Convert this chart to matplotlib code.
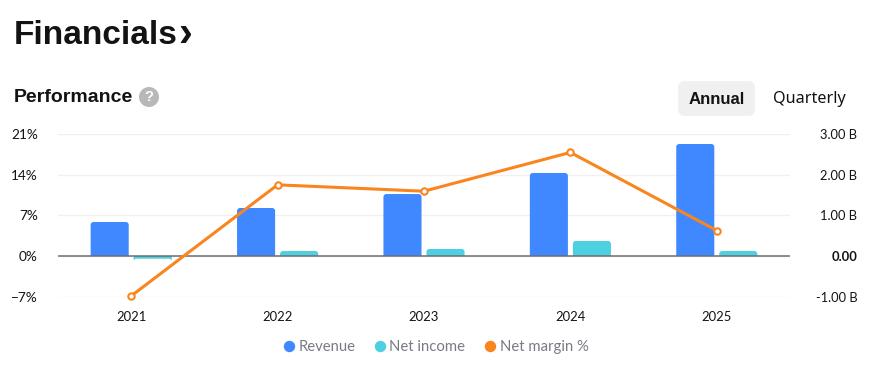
import matplotlib
matplotlib.use("Agg")
import matplotlib.pyplot as plt
import numpy as np
from matplotlib.lines import Line2D
from matplotlib.patches import Circle, FancyBboxPatch, Rectangle

years = ["2021", "2022", "2023", "2024", "2025"]
revenue = [0.84, 1.185, 1.53, 2.05, 2.765]
net_income = [-0.067, 0.123, 0.173, 0.37, 0.123]
net_margin = [-6.9, 12.3, 11.2, 17.9, 4.4]

pct_ticks = [-7, 0, 7, 14, 21]
pct_labels = ["\u22127%", "0%", "7%", "14%", "21%"]
bil_ticks = [-1, 0, 1, 2, 3]
bil_labels = ["-1.00 B", "0.00", "1.00 B", "2.00 B", "3.00 B"]

W, H = 876, 388
BLUE = "#3F88FF"
CYAN = "#4DD0E1"
ORANGE = "#F9851F"
INK = "#131313"
HEAD = ["Liberation Sans", "DejaVu Sans"]

plt.rcParams["font.family"] = ["Lato", "DejaVu Sans"]

fig = plt.figure(figsize=(W / 100, H / 100), dpi=100)

# page furniture in pixel coordinates
page = fig.add_axes([0, 0, 1, 1])
page.set_xlim(0, W)
page.set_ylim(H, 0)
page.axis("off")
page.text(14, 36, "Financials", family=HEAD, fontsize=24, fontweight="bold", color=INK, va="center")
page.text(178, 35, "\u203a", family=HEAD, fontsize=30, fontweight="bold", color=INK, va="center")
page.text(14, 98, "Performance", family=HEAD, fontsize=14, fontweight="bold", color=INK, va="center")
page.add_patch(Circle((149, 97), 10, color="#B8B8B8", lw=0))
page.text(149, 97, "?", family=HEAD, fontsize=10.5, fontweight="bold", color="white", ha="center", va="center")
page.add_patch(FancyBboxPatch((684, 87), 65, 23, boxstyle="round,pad=0,rounding_size=0",
                              fc="#F0F0F0", ec="#F0F0F0", lw=8.5, joinstyle="round"))
page.text(716.5, 99, "Annual", family=HEAD, fontsize=12.1, fontweight="bold", color=INK, ha="center", va="center")
page.text(809, 99, "Quarterly", family=["Noto Sans", "DejaVu Sans"], fontsize=11.7, color=INK, ha="center", va="center")

# plot area
left, right, top, bottom = 58, 790, 134.5, 296.5
ax = fig.add_axes([left / W, 1 - bottom / H, (right - left) / W, (bottom - top) / H])
ax2 = ax.twinx()
ax2.set_zorder(1)
ax.set_zorder(2)
ax.patch.set_visible(False)

x = np.arange(len(years))
ax.set_xlim(-0.5, len(years) - 0.5)
ax.set_ylim(-7, 21)
ax2.set_ylim(-1, 3)

# y units per x unit on screen, so the corners stay round
y_per_x = (4 / (bottom - top)) / (len(years) / (right - left))
bar_w = 0.26
corner = 0.02


def rounded_bars(centers, values, color):
    for c, v in zip(centers, values):
        # box runs past the baseline and gets clipped there, only the far end stays round
        past = np.sign(v) * corner * y_per_x * 1.5
        box = FancyBboxPatch((c - bar_w / 2, -past), bar_w, v + past, fc=color, ec="none", zorder=3,
                             boxstyle=f"round,pad=0,rounding_size={corner}", mutation_aspect=y_per_x)
        ax2.add_patch(box)
        box.set_clip_path(Rectangle((c - bar_w, 0), 2 * bar_w, v * 1.5, transform=ax2.transData))


rounded_bars(x - 0.147, revenue, BLUE)
rounded_bars(x + 0.147, net_income, CYAN)
ax2.axhline(0, color="#6E6E6E", lw=1.1, zorder=4)
ax2.set_axisbelow(True)
ax2.grid(axis="y", color="#F0F0F0", lw=1)

ax.plot(x, net_margin, color=ORANGE, lw=2.2, marker="o", ms=4.6,
        mfc="white", mec=ORANGE, mew=1.5, zorder=5, clip_on=False)

for a in (ax, ax2):
    for s in a.spines.values():
        s.set_visible(False)

ax.set_xticks(x, years)
ax.set_yticks(pct_ticks, pct_labels)
ax2.set_yticks(bil_ticks, bil_labels)
ax.tick_params(axis="x", length=0, pad=10.5, labelsize=9.4, labelcolor=INK)
ax.tick_params(axis="y", length=0, pad=14.5, labelsize=9.8, labelcolor=INK)
ax2.tick_params(axis="y", length=0, pad=48.5, labelsize=9.3, labelcolor=INK)
for lab in ax2.get_yticklabels():
    lab.set_ha("right")
    if lab.get_text() == "0.00":
        lab.set_fontweight("bold")

handles = [Line2D([], [], ls="", marker="o", ms=7.2, color=c) for c in (BLUE, CYAN, ORANGE)]
fig.legend(handles, ["Revenue", "Net income", "Net margin %"], loc="center",
           bbox_to_anchor=(436 / W, 1 - 347 / H), ncol=3, frameon=False, fontsize=10.7,
           labelcolor="#787B86", handlelength=0.7, handletextpad=0.3, columnspacing=1.3)

fig.savefig("out.png", dpi=100)
